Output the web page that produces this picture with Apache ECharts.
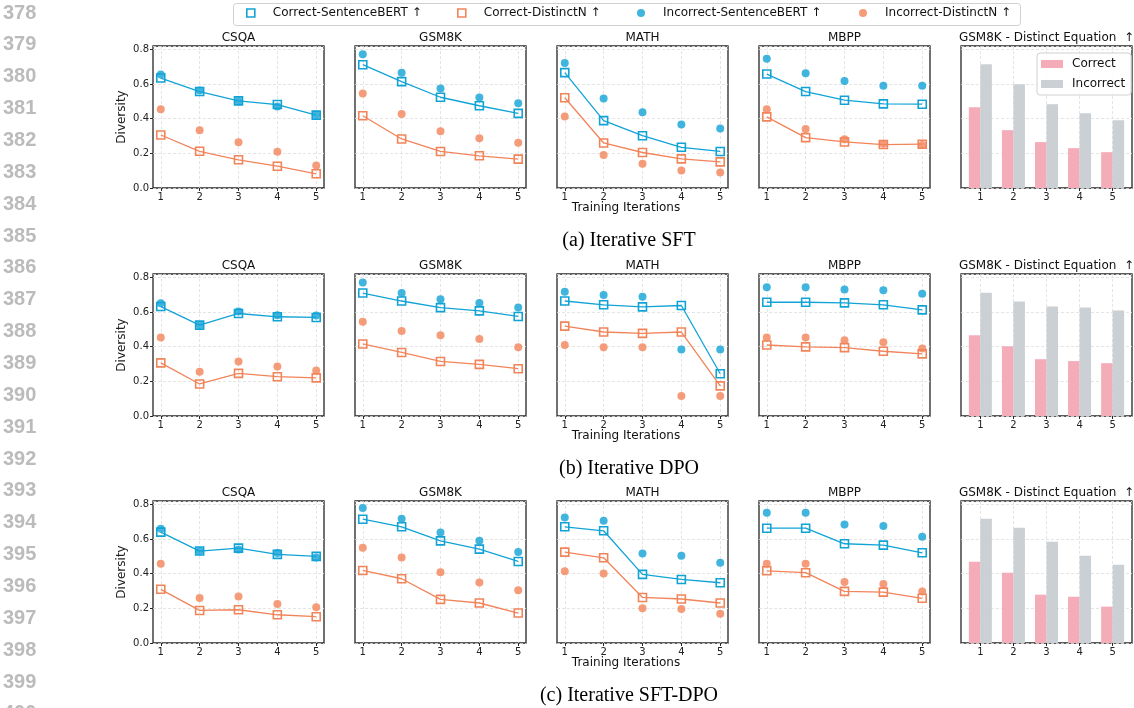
<!DOCTYPE html>
<html>
<head>
<meta charset="utf-8">
<title>Diversity</title>
<script src="https://cdn.jsdelivr.net/npm/echarts@6/dist/echarts.min.js"></script>
<style>
  html, body { margin: 0; padding: 0; background: #fff; }
</style>
</head>
<body>
<div id="main" style="width:1134px;height:708px;"></div>
<script>
// x axis: training iterations
var iterations = [1, 2, 3, 4, 5];
var datasets = ['CSQA', 'GSM8K', 'MATH', 'MBPP'];
var captions = ['(a) Iterative SFT', '(b) Iterative DPO', '(c) Iterative SFT-DPO'];

// (a) Iterative SFT -- one list per dataset (CSQA, GSM8K, MATH, MBPP)
var sftCorrectSB = [[0.635, 0.557, 0.503, 0.482, 0.421], [0.712, 0.614, 0.524, 0.475, 0.431], [0.666, 0.389, 0.302, 0.235, 0.211], [0.658, 0.557, 0.507, 0.486, 0.484]];
var sftIncorrectSB = [[0.656, 0.563, 0.501, 0.471, 0.423], [0.773, 0.666, 0.574, 0.522, 0.489], [0.722, 0.517, 0.438, 0.367, 0.343], [0.746, 0.662, 0.618, 0.591, 0.591]];
var sftCorrectDN = [[0.306, 0.212, 0.163, 0.126, 0.082], [0.417, 0.283, 0.211, 0.186, 0.167], [0.521, 0.260, 0.205, 0.168, 0.151], [0.411, 0.291, 0.266, 0.251, 0.253]];
var sftIncorrectDN = [[0.455, 0.333, 0.264, 0.209, 0.130], [0.545, 0.427, 0.327, 0.287, 0.262], [0.413, 0.191, 0.140, 0.101, 0.090], [0.455, 0.341, 0.281, 0.256, 0.249]];
var sftEqCorrect = [0.466, 0.334, 0.265, 0.230, 0.207];
var sftEqIncorrect = [0.714, 0.599, 0.484, 0.432, 0.391];

// (b) Iterative DPO
var dpoCorrectSB = [[0.632, 0.525, 0.592, 0.573, 0.569], [0.710, 0.664, 0.626, 0.607, 0.575], [0.664, 0.642, 0.630, 0.638, 0.244], [0.657, 0.657, 0.653, 0.642, 0.613]];
var dpoIncorrectSB = [[0.651, 0.525, 0.603, 0.582, 0.580], [0.771, 0.710, 0.674, 0.653, 0.626], [0.718, 0.699, 0.689, 0.384, 0.384], [0.743, 0.743, 0.731, 0.726, 0.706]];
var dpoCorrectDN = [[0.307, 0.185, 0.246, 0.227, 0.220], [0.416, 0.367, 0.315, 0.298, 0.273], [0.519, 0.485, 0.477, 0.485, 0.174], [0.410, 0.399, 0.395, 0.374, 0.359]];
var dpoIncorrectDN = [[0.454, 0.256, 0.315, 0.286, 0.263], [0.544, 0.491, 0.466, 0.445, 0.397], [0.410, 0.397, 0.397, 0.115, 0.115], [0.453, 0.453, 0.437, 0.426, 0.390]];
var dpoEqCorrect = [0.466, 0.403, 0.328, 0.317, 0.305];
var dpoEqIncorrect = [0.712, 0.661, 0.632, 0.626, 0.609];

// (c) Iterative SFT-DPO
var sftDpoCorrectSB = [[0.640, 0.531, 0.548, 0.512, 0.500], [0.715, 0.671, 0.590, 0.542, 0.471], [0.671, 0.648, 0.396, 0.367, 0.348], [0.663, 0.663, 0.573, 0.565, 0.521]];
var sftDpoIncorrectSB = [[0.660, 0.531, 0.540, 0.519, 0.494], [0.779, 0.717, 0.638, 0.590, 0.525], [0.725, 0.706, 0.517, 0.504, 0.463], [0.752, 0.752, 0.685, 0.675, 0.613]];
var sftDpoCorrectDN = [[0.310, 0.188, 0.192, 0.163, 0.152], [0.419, 0.371, 0.252, 0.231, 0.173], [0.525, 0.492, 0.263, 0.254, 0.231], [0.417, 0.406, 0.298, 0.294, 0.258]];
var sftDpoIncorrectDN = [[0.458, 0.260, 0.269, 0.225, 0.206], [0.550, 0.494, 0.408, 0.350, 0.304], [0.415, 0.402, 0.200, 0.196, 0.169], [0.458, 0.458, 0.352, 0.340, 0.298]];
var sftDpoEqCorrect = [0.469, 0.406, 0.279, 0.267, 0.210];
var sftDpoEqIncorrect = [0.717, 0.665, 0.585, 0.504, 0.452];

var rows = [
  { cSB: sftCorrectSB, iSB: sftIncorrectSB, cDN: sftCorrectDN, iDN: sftIncorrectDN, eqC: sftEqCorrect, eqI: sftEqIncorrect },
  { cSB: dpoCorrectSB, iSB: dpoIncorrectSB, cDN: dpoCorrectDN, iDN: dpoIncorrectDN, eqC: dpoEqCorrect, eqI: dpoEqIncorrect },
  { cSB: sftDpoCorrectSB, iSB: sftDpoIncorrectSB, cDN: sftDpoCorrectDN, iDN: sftDpoIncorrectDN, eqC: sftDpoEqCorrect, eqI: sftDpoEqIncorrect }
];

var BLUE = '#12a3d6';
var ORANGE = '#f2845a';
var PINK = '#f4acb8';
var GREY = '#cbd0d4';
var FONT = 'DejaVu Sans';

var colLeft = [153, 355, 557, 759, 961];
var rowTop = [46, 274, 501];
var plotW = 171, plotH = 142;

function pairs(vals) {
  return iterations.map(function (x, i) { return [x, vals[i]]; });
}

var myChart = echarts.init(document.getElementById('main'));

var grids = [], xAxes = [], yAxes = [], series = [], graphics = [];
var k = 0;
for (var r = 0; r < 3; r++) {
  for (var c = 0; c < 5; c++) {
    var isBar = c === 4;
    grids.push({
      left: colLeft[c], top: rowTop[r], width: plotW, height: plotH,
      show: true, borderColor: '#262626', borderWidth: 1.3, backgroundColor: 'transparent'
    });
    xAxes.push({
      gridIndex: k, type: 'value',
      min: isBar ? 0.415 : 0.8, max: isBar ? 5.585 : 5.2,
      axisLine: { show: false },
      axisTick: { show: true, length: 3, customValues: iterations, lineStyle: { color: '#262626' } },
      axisLabel: { customValues: iterations, margin: 4, fontSize: 10, color: '#222', fontFamily: FONT },
      splitLine: { show: true, lineStyle: { color: '#dedede', type: [3, 2], width: 0.8 } }
    });
    yAxes.push({
      gridIndex: k, type: 'value', min: 0, max: 0.82, interval: 0.2,
      name: c === 0 ? 'Diversity' : '', nameLocation: 'middle', nameGap: 25,
      nameTextStyle: { fontSize: 12, color: '#222', fontFamily: FONT },
      axisLine: { show: false },
      axisTick: { show: c === 0, length: 3, lineStyle: { color: '#262626' } },
      axisLabel: {
        show: c === 0, margin: 4, fontSize: 10, color: '#222', fontFamily: FONT,
        formatter: function (v) { return v.toFixed(1); }
      },
      splitLine: { show: true, lineStyle: { color: '#dedede', type: [3, 2], width: 0.8 } }
    });
    var row = rows[r];
    if (isBar) {
      series.push({
        name: 'Correct', type: 'bar', xAxisIndex: k, yAxisIndex: k,
        data: pairs(row.eqC), barWidth: 11.5, barGap: '0%',
        itemStyle: { color: PINK }, silent: true
      });
      series.push({
        name: 'Incorrect', type: 'bar', xAxisIndex: k, yAxisIndex: k,
        data: pairs(row.eqI), barWidth: 11.5, barGap: '0%',
        itemStyle: { color: GREY }, silent: true
      });
    } else {
      series.push({
        name: 'Incorrect-SentenceBERT ↑', type: 'scatter', xAxisIndex: k, yAxisIndex: k,
        data: pairs(row.iSB[c]), symbol: 'circle', symbolSize: 8,
        itemStyle: { color: BLUE }, silent: true, z: 2
      });
      series.push({
        name: 'Incorrect-DistinctN ↑', type: 'scatter', xAxisIndex: k, yAxisIndex: k,
        data: pairs(row.iDN[c]), symbol: 'circle', symbolSize: 8,
        itemStyle: { color: ORANGE }, silent: true, z: 2
      });
      series.push({
        name: 'Correct-SentenceBERT ↑', type: 'line', xAxisIndex: k, yAxisIndex: k,
        data: pairs(row.cSB[c]), symbol: 'rect', symbolSize: 8, showAllSymbol: true,
        lineStyle: { color: BLUE, width: 1.3 },
        itemStyle: { color: 'rgba(255,255,255,0)', borderColor: BLUE, borderWidth: 1.6 },
        silent: true, z: 3
      });
      series.push({
        name: 'Correct-DistinctN ↑', type: 'line', xAxisIndex: k, yAxisIndex: k,
        data: pairs(row.cDN[c]), symbol: 'rect', symbolSize: 8, showAllSymbol: true,
        lineStyle: { color: ORANGE, width: 1.3 },
        itemStyle: { color: 'rgba(255,255,255,0)', borderColor: ORANGE, borderWidth: 1.6 },
        silent: true, z: 3
      });
    }
    // panel title
    graphics.push({
      type: 'text', x: colLeft[c] + plotW / 2, y: rowTop[r] - 8,
      style: {
        text: isBar ? 'GSM8K - Distinct Equation  ↑' : datasets[c],
        font: '12px "DejaVu Sans"', fill: '#111', align: 'center', verticalAlign: 'middle'
      }
    });
    k++;
  }
  // x-axis label for the row and caption
  graphics.push({
    type: 'text', x: 626, y: rowTop[r] + plotH + 20,
    style: { text: 'Training Iterations', font: '12px "DejaVu Sans"', fill: '#111', align: 'center', verticalAlign: 'middle' }
  });
  graphics.push({
    type: 'text', x: 629, y: rowTop[r] + plotH + 53,
    style: { text: captions[r], font: '20px "Liberation Serif"', fill: '#000', align: 'center', verticalAlign: 'middle' }
  });
}

// line numbers in the margin
for (var n = 378; n <= 400; n++) {
  graphics.push({
    type: 'text', x: 3, y: 13 + (n - 378) * 31.86,
    style: { text: String(n), font: 'bold 20px "Liberation Sans"', fill: '#bbbbbb', align: 'left', verticalAlign: 'middle' }
  });
}

// frame of the top legend
graphics.push({
  type: 'rect', shape: { x: 233.5, y: 3.5, width: 787, height: 22, r: 3 },
  style: { fill: '#fff', stroke: '#d0d0d0', lineWidth: 1 }, z: -1
});

var topItems = [
  { name: 'Correct-SentenceBERT ↑', left: 246, icon: 'rect', style: { color: '#fff', borderColor: BLUE, borderWidth: 1.6 } },
  { name: 'Correct-DistinctN ↑', left: 457, icon: 'rect', style: { color: '#fff', borderColor: ORANGE, borderWidth: 1.6 } },
  { name: 'Incorrect-SentenceBERT ↑', left: 637, icon: 'circle', style: { color: BLUE } },
  { name: 'Incorrect-DistinctN ↑', left: 859, icon: 'circle', style: { color: ORANGE } }
];
var legends = topItems.map(function (it) {
  return {
    left: it.left, top: 7, padding: 0, itemWidth: 8, itemHeight: 8, selectedMode: false,
    textStyle: { fontSize: 12, color: '#111', fontFamily: FONT, padding: [0, 0, 0, 13] },
    data: [{ name: it.name, icon: it.icon, itemStyle: it.style }]
  };
});
legends.push({
  left: 1037, top: 53, orient: 'vertical', itemWidth: 22, itemHeight: 8, itemGap: 8,
  selectedMode: false, padding: [5, 6, 5, 4],
  borderColor: '#d0d0d0', borderWidth: 1, borderRadius: 3, backgroundColor: 'rgba(255,255,255,0.8)',
  textStyle: { fontSize: 12, color: '#111', fontFamily: FONT, padding: [0, 0, 0, 4] },
  data: [{ name: 'Correct', icon: 'rect' }, { name: 'Incorrect', icon: 'rect' }]
});

var option = {
  animation: false,
  backgroundColor: '#fff',
  textStyle: { fontFamily: FONT },
  legend: legends,
  grid: grids,
  xAxis: xAxes,
  yAxis: yAxes,
  series: series,
  graphic: graphics
};
myChart.setOption(option);
</script>
</body>
</html>
